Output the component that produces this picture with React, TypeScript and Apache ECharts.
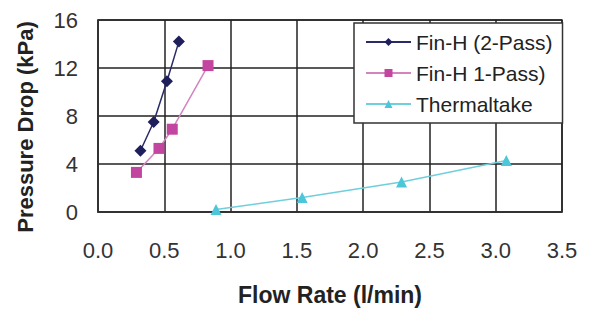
import React, { useEffect, useRef } from "react";
import * as echarts from "echarts";

const finH2X = [0.32, 0.42, 0.52, 0.61];
const finH2Y = [5.1, 7.5, 10.9, 14.2];
const finH1X = [0.29, 0.46, 0.56, 0.83];
const finH1Y = [3.3, 5.3, 6.9, 12.2];
const thermX = [0.89, 1.54, 2.29, 3.08];
const thermY = [0.2, 1.2, 2.5, 4.3];
const seriesNames = ["Fin-H (2-Pass)", "Fin-H 1-Pass)", "Thermaltake"];
const xTicks = { min: 0, max: 3.5, interval: 0.5 };
const yTicks = { min: 0, max: 16, interval: 4 };

const zip = (xs: number[], ys: number[]) => xs.map((x, i) => [x, ys[i]]);

export default function App() {
  const ref = useRef<HTMLDivElement>(null);
  useEffect(() => {
    if (!ref.current) return;
    const chart = echarts.init(ref.current, null, { renderer: "svg" });
    const font = "'Liberation Sans', Arial, sans-serif";
    chart.setOption({
      animation: false,
      backgroundColor: "#fff",
      textStyle: { fontFamily: font },
      grid: {
        left: 98,
        right: 28,
        top: 20,
        bottom: 100,
        show: true,
        borderColor: "#333",
        borderWidth: 1.5,
      },
      xAxis: {
        type: "value",
        min: xTicks.min,
        max: xTicks.max,
        interval: xTicks.interval,
        name: "Flow Rate (l/min)",
        nameLocation: "middle",
        nameGap: 71,
        nameTextStyle: { fontSize: 23, fontWeight: "bold", color: "#222", fontFamily: font },
        axisLine: { show: true, lineStyle: { color: "#333", width: 1.5 } },
        axisTick: { show: false },
        splitLine: { show: true, lineStyle: { color: "#222", width: 1.5 } },
        axisLabel: {
          margin: 27,
          fontSize: 22,
          color: "#333",
          fontFamily: font,
          formatter: (v: number) => v.toFixed(1),
        },
      },
      yAxis: {
        type: "value",
        min: yTicks.min,
        max: yTicks.max,
        interval: yTicks.interval,
        axisLine: { show: true, lineStyle: { color: "#333", width: 1.5 } },
        axisTick: { show: false },
        splitLine: { show: true, lineStyle: { color: "#222", width: 1.5 } },
        axisLabel: { margin: 20, fontSize: 22, color: "#333", fontFamily: font },
      },
      graphic: [
        {
          type: "text",
          x: 25,
          y: 127,
          rotation: Math.PI / 2,
          style: {
            text: "Pressure Drop (kPa)",
            fontSize: 22,
            fontWeight: "bold",
            fill: "#222",
            fontFamily: font,
            align: "center",
            verticalAlign: "middle",
          },
        },
      ],
      legend: {
        orient: "vertical",
        left: 354,
        top: 23,
        padding: [8, 10, 8, 11],
        itemGap: 9,
        itemWidth: 45,
        itemHeight: 10,
        backgroundColor: "#fff",
        borderColor: "#333",
        borderWidth: 1.5,
        borderRadius: 0,
        textStyle: { fontSize: 21, color: "#222", fontFamily: font, lineHeight: 22 },
        data: seriesNames,
      },
      series: [
        {
          name: seriesNames[0],
          type: "line",
          data: zip(finH2X, finH2Y),
          symbol: "diamond",
          symbolSize: 12,
          lineStyle: { color: "#2a2a66", width: 1.5 },
          itemStyle: { color: "#1f1f5c" },
          z: 3,
        },
        {
          name: seriesNames[1],
          type: "line",
          data: zip(finH1X, finH1Y),
          symbol: "rect",
          symbolSize: 11,
          lineStyle: { color: "#d384bf", width: 1.5 },
          itemStyle: { color: "#c2459f" },
          z: 3,
        },
        {
          name: seriesNames[2],
          type: "line",
          data: zip(thermX, thermY),
          symbol: "triangle",
          symbolSize: 11,
          lineStyle: { color: "#6fcfdc", width: 1.5 },
          itemStyle: { color: "#4cc6d8" },
          z: 3,
        },
      ],
    });
    return () => chart.dispose();
  }, []);
  return <div ref={ref} style={{ width: 590, height: 312, position: "absolute", left: 0, top: 0 }} />;
}
